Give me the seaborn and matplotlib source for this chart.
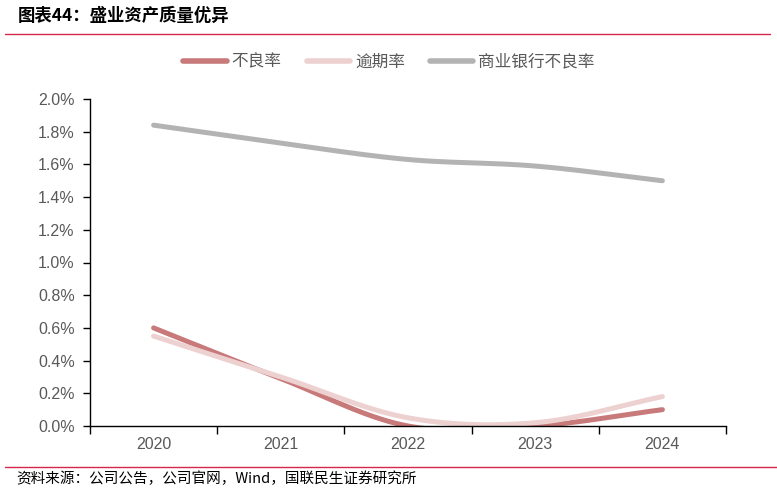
import numpy as np
import pandas as pd
import matplotlib
matplotlib.use("Agg")
import matplotlib.pyplot as plt
import seaborn as sns
from matplotlib.lines import Line2D
from matplotlib.ticker import FuncFormatter, FixedLocator

years = ["2020", "2021", "2022", "2023", "2024"]
npl = [0.60, 0.29, 0.00, 0.00, 0.10]
overdue = [0.55, 0.30, 0.05, 0.02, 0.18]
bank_npl = [1.84, 1.73, 1.63, 1.59, 1.50]
series_names = ["不良率", "逾期率", "商业银行不良率"]
colors = ["#C87A7A", "#EDD0D0", "#B3B3B3"]
yticks = [0.0, 0.2, 0.4, 0.6, 0.8, 1.0, 1.2, 1.4, 1.6, 1.8, 2.0]

sns.set_theme(style="white")
plt.rcParams['font.family'] = ['Noto Sans CJK SC', 'DejaVu Sans']


def smooth(xs, ys, n=40):
    # Catmull-Rom style smoothing for rendering (like Excel's smoothed line)
    xs = np.asarray(xs, float)
    ys = np.asarray(ys, float)
    px = np.concatenate([[2 * xs[0] - xs[1]], xs, [2 * xs[-1] - xs[-2]]])
    py = np.concatenate([[2 * ys[0] - ys[1]], ys, [2 * ys[-1] - ys[-2]]])
    ox, oy = [], []
    for i in range(1, len(px) - 2):
        t = np.linspace(0, 1, n, endpoint=(i == len(px) - 3))
        for arr, out in ((px, ox), (py, oy)):
            p0, p1, p2, p3 = arr[i - 1], arr[i], arr[i + 1], arr[i + 2]
            m1 = (p2 - p0) / 2
            m2 = (p3 - p1) / 2
            h00 = 2 * t**3 - 3 * t**2 + 1
            h10 = t**3 - 2 * t**2 + t
            h01 = -2 * t**3 + 3 * t**2
            h11 = t**3 - t**2
            out.extend(h00 * p1 + h10 * m1 + h01 * p2 + h11 * m2)
    return np.array(ox), np.array(oy)


fig = plt.figure(figsize=(7.77, 4.91), dpi=100)
ax = fig.add_axes([90 / 777, 1 - 426 / 491, (726 - 90) / 777, (426 - 99) / 491])

xpos = np.arange(len(years))
for name, vals, c in zip(series_names, [npl, overdue, bank_npl], colors):
    sx, sy = smooth(xpos, vals)
    df = pd.DataFrame({"x": sx, "y": sy})
    sns.lineplot(data=df, x="x", y="y", ax=ax, color=c, linewidth=3.6,
                 sort=False, estimator=None, solid_capstyle="round", clip_on=True)

ax.set_xlim(-0.5, len(years) - 0.5)
ax.set_ylim(0, 2.0)
ax.set_xlabel("")
ax.set_ylabel("")
ax.set_yticks(yticks)
ax.yaxis.set_major_formatter(FuncFormatter(lambda v, p: f"{v:.1f}%"))
ax.xaxis.set_major_locator(FixedLocator(np.arange(-0.5, len(years), 1.0)))
ax.xaxis.set_major_formatter(FuncFormatter(lambda v, p: ""))
ax.xaxis.set_minor_locator(FixedLocator(xpos))
ax.set_xticklabels(years, minor=True)
ax.tick_params(axis="x", which="major", direction="out", length=6, width=1, color="black", bottom=True)
ax.tick_params(axis="x", which="minor", length=0, pad=8, labelsize=11.5, labelcolor="#595959", bottom=True)
ax.tick_params(axis="y", direction="out", length=5, width=1, color="black", left=True,
               labelsize=11.5, labelcolor="#595959", pad=6)
for lab in ax.get_xticklabels(minor=True) + ax.get_yticklabels():
    lab.set_family(["Liberation Sans", "DejaVu Sans"])
for s in ["top", "right"]:
    ax.spines[s].set_visible(False)
for s in ["left", "bottom"]:
    ax.spines[s].set_color("black")
    ax.spines[s].set_linewidth(1)
ax.grid(False)

handles = [Line2D([0], [0], color=c, lw=4, solid_capstyle="round") for c in colors]
fig.legend(handles, series_names, loc="center", bbox_to_anchor=(389 / 777, 1 - 62 / 491),
           ncol=3, frameon=False, fontsize=12, handlelength=2.6, columnspacing=1.5,
           handletextpad=0.3, labelcolor="#595959")

fig.text(18 / 777, 1 - 16 / 491, "图表44：盛业资产质量优异", fontsize=12.5, fontweight="bold",
         va="center", ha="left", color="black")
fig.add_artist(Line2D([5 / 777, 770 / 777], [1 - 34 / 491, 1 - 34 / 491], color="#D6264A", lw=1))
fig.add_artist(Line2D([5 / 777, 1.0], [1 - 467 / 491, 1 - 467 / 491], color="#D6264A", lw=1))
fig.text(16 / 777, 1 - 479 / 491, "资料来源：公司公告，公司官网，Wind，国联民生证券研究所", fontsize=10.5,
         va="center", ha="left", color="black")

fig.savefig("out.png", dpi=100, facecolor="white")
